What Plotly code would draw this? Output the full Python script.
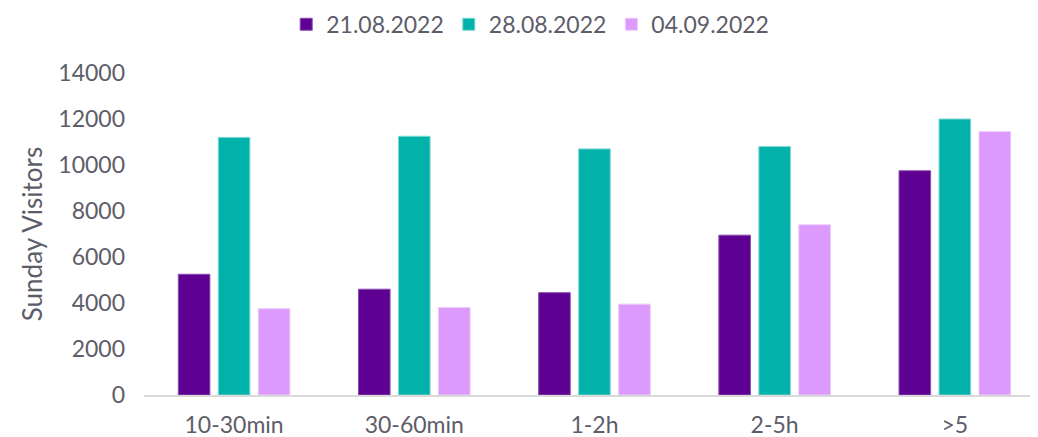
import plotly.graph_objects as go

categories = ["10-30min", "30-60min", "1-2h", "2-5h", ">5"]
series_names = ["21.08.2022", "28.08.2022", "04.09.2022"]
v_2108 = [5250, 4600, 4450, 6950, 9750]
v_2808 = [11200, 11250, 10700, 10800, 12000]
v_0409 = [3750, 3800, 3950, 7400, 11450]
y_ticks = [0, 2000, 4000, 6000, 8000, 10000, 12000, 14000]
y_tick_labels = [str(v) for v in y_ticks]

colors = ["#5E0092", "#00B2A9", "#DC9AFC"]
edge = ["#8a4fb0", "#7fd8d3", "#ecc8fd"]
text_color = "#5d5d69"
font_family = "Lato, 'Open Sans', sans-serif"
fs = 23

fig = go.Figure()
for name, vals, c, e in zip(series_names, [v_2108, v_2808, v_0409], colors, edge):
    fig.add_trace(go.Bar(
        x=categories, y=vals, name=name,
        marker=dict(color=c, line=dict(color=e, width=1)),
    ))

fig.update_layout(
    template="none",
    width=1030, height=429,
    margin=dict(l=136, r=1, t=65, b=42, autoexpand=False),
    paper_bgcolor="white", plot_bgcolor="white",
    barmode="group", bargap=0.334, bargroupgap=0.21,
    font=dict(family=font_family, size=fs, color=text_color),
    legend=dict(
        orientation="h", xref="container", yref="container",
        x=0.507, xanchor="center", y=0.962, yanchor="middle",
        font=dict(size=fs, color=text_color),
        itemwidth=30, tracegroupgap=0,
    ),
    xaxis=dict(
        range=[-0.5, 4.456], automargin=False,
        showline=True, linecolor="#d9d9d9", linewidth=2,
        showgrid=False, zeroline=False, ticks="", ticklabelstandoff=8,
        tickfont=dict(size=fs, color=text_color),
    ),
    yaxis=dict(
        range=[0, 14000], tickvals=y_ticks, ticktext=y_tick_labels,
        automargin=False,
        showgrid=False, zeroline=False, showline=False,
        ticks="", ticklabelstandoff=18,
        tickfont=dict(size=fs, color=text_color),
        title=dict(text="Sunday Visitors", standoff=8,
                   font=dict(size=26, color=text_color)),
    ),
)

fig.write_html("out.html")
